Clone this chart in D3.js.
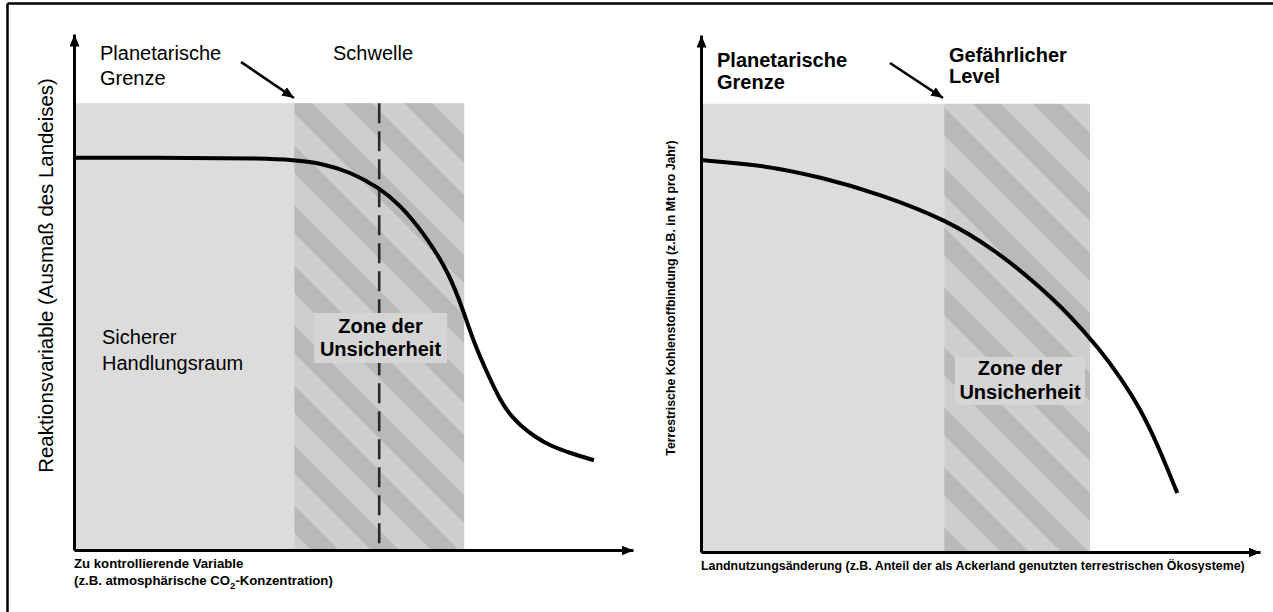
<!DOCTYPE html>
<html><head><meta charset="utf-8">
<script src="https://cdn.jsdelivr.net/npm/d3@7"></script>
<style>body{margin:0;background:#fff}svg{display:block}text{font-family:"Liberation Sans",Arial,sans-serif;fill:#000}</style>
</head><body><svg id="c" width="1273" height="612"></svg>
<script>
// ---- data (abstract units 0..100 along each axis) ----
const leftCurveX  = [0, 22.5, 33.3, 39.4, 44.0, 49.4, 54.6, 58.3, 62.6, 67.1, 69.6, 71.7, 74.1, 76.2, 78.0, 79.8, 82.5, 85.2, 88.7, 93.0];
const leftCurveY  = [76.0, 76.0, 75.9, 75.6, 75.0, 73.3, 70.2, 66.9, 61.4, 53.7, 46.5, 39.7, 33.9, 29.1, 26.2, 24.2, 21.9, 20.2, 18.8, 17.4];
const rightCurveX = [0, 10.7, 21.6, 32.4, 44.0, 52.6, 59.9, 65.7, 71.4, 75.0, 78.5, 81.8, 85.2];
const rightCurveY = [75.8, 74.9, 72.5, 69.1, 64.2, 58.4, 52.0, 46.2, 39.1, 33.8, 27.9, 20.5, 11.4];
const leftZones  = [0, 39.4, 69.8];   // safe zone start, planetary boundary, end of uncertainty
const rightZones = [0, 43.5, 69.6];
const zoneTop = [86.6, 86.7];
const leftThreshold = 54.6;

const leftTexts = {
  boundary: ["Planetarische", "Grenze"],
  threshold: ["Schwelle"],
  safe: ["Sicherer", "Handlungsraum"],
  zone: ["Zone der", "Unsicherheit"],
  yTitle: "Reaktionsvariable (Ausmaß des Landeises)",
  xTitle1: "Zu kontrollierende Variable",
  xTitle2: ["(z.B. atmosphärische CO", "2", "-Konzentration)"]
};
const rightTexts = {
  boundary: ["Planetarische", "Grenze"],
  danger: ["Gefährlicher", "Level"],
  zone: ["Zone der", "Unsicherheit"],
  yTitle: "Terrestrische Kohlenstoffbindung (z.B. in Mt pro Jahr)",
  xTitle: "Landnutzungsänderung (z.B. Anteil der als Ackerland genutzten terrestrischen Ökosysteme)"
};

const svg = d3.select("#c");
const defs = svg.append("defs");

// arrow marker
defs.append("marker").attr("id","arr").attr("markerUnits","userSpaceOnUse")
  .attr("viewBox","0 0 12 10").attr("refX",12).attr("refY",5)
  .attr("markerWidth",12).attr("markerHeight",10).attr("orient","auto")
  .append("path").attr("d","M0,0L12,5L0,10Z").attr("fill","#000");

function hatch(id, off){
  const p = defs.append("pattern").attr("id",id).attr("patternUnits","userSpaceOnUse")
    .attr("width",60/Math.SQRT2).attr("height",60/Math.SQRT2)
    .attr("patternTransform",`translate(0,${off}) rotate(45)`);
  p.append("rect").attr("width",60/Math.SQRT2).attr("height",60/Math.SQRT2).attr("fill","#cecece");
  p.append("rect").attr("width",60/Math.SQRT2).attr("height",28/Math.SQRT2).attr("fill","#b9b9b9");
}
hatch("hL", 31);
hatch("hR", 3);

// frame
svg.append("line").attr("x1",7.5).attr("y1",3.5).attr("x2",1273).attr("y2",3.5).attr("stroke","#000").attr("stroke-width",2.5);
svg.append("line").attr("x1",7.5).attr("y1",3.5).attr("x2",7.5).attr("y2",612).attr("stroke","#000").attr("stroke-width",2.5);

function panel(cfg){
  const x = d3.scaleLinear().domain([0,100]).range(cfg.xr);
  const y = d3.scaleLinear().domain([0,100]).range(cfg.yr);
  const g = svg.append("g");
  const z = cfg.zones;
  g.append("rect").attr("x",x(z[0])).attr("y",y(cfg.top)).attr("width",x(z[1])-x(z[0])).attr("height",y(0)-y(cfg.top)).attr("fill","#dcdcdc");
  g.append("rect").attr("x",x(z[1])).attr("y",y(cfg.top)).attr("width",x(z[2])-x(z[1])).attr("height",y(0)-y(cfg.top)).attr("fill",`url(#${cfg.hatch})`);
  if (cfg.threshold!=null){
    g.append("line").attr("x1",x(cfg.threshold)).attr("x2",x(cfg.threshold)).attr("y1",y(cfg.top)).attr("y2",y(0))
      .attr("stroke","#2a2a2a").attr("stroke-width",2.6).attr("stroke-dasharray","20,8");
  }
  // uncertainty label box
  const b = cfg.box;
  g.append("rect").attr("x",b[0]).attr("y",b[1]).attr("width",b[2]).attr("height",b[3]).attr("fill","#d5d5d5");
  cfg.zoneText.forEach((t,i)=>{
    g.append("text").attr("x",b[0]+b[2]/2).attr("y",cfg.zoneY[i]).attr("text-anchor","middle")
      .attr("font-size",20).attr("font-weight","bold").text(t);
  });
  // curve
  const pts = cfg.cx.map((v,i)=>[v,cfg.cy[i]]);
  g.append("path").datum(pts).attr("fill","none").attr("stroke","#000").attr("stroke-width",4).attr("stroke-linecap","butt")
    .attr("d", d3.line().x(d=>x(d[0])).y(d=>y(d[1])).curve(d3.curveBasis));
  // axes
  const xa = g.append("g").attr("transform",`translate(0,${y(0)})`).call(d3.axisBottom(x).ticks(0).tickSizeOuter(0));
  const ya = g.append("g").attr("transform",`translate(${x(0)},0)`).call(d3.axisLeft(y).ticks(0).tickSizeOuter(0));
  [xa,ya].forEach(a=>{a.select(".domain").attr("stroke","#000").attr("stroke-width",3).attr("marker-end","url(#arr)");});
  return {x,y,g};
}

// LEFT PANEL
panel({xr:[74,633], yr:[550,34], zones:leftZones, top:zoneTop[0], hatch:"hL", threshold:leftThreshold,
  box:[314,313,133,50], zoneText:leftTexts.zone, zoneY:[333,356], cx:leftCurveX, cy:leftCurveY});
// RIGHT PANEL
panel({xr:[701,1260], yr:[552,35], zones:rightZones, top:zoneTop[1], hatch:"hR", threshold:null,
  box:[955,357,130,48], zoneText:rightTexts.zone, zoneY:[375,399], cx:rightCurveX, cy:rightCurveY});

function lines(arr, x, ys, opts){
  arr.forEach((t,i)=>{
    svg.append("text").attr("x",x).attr("y",ys[i]).attr("font-size",opts.size).attr("font-weight",opts.weight||"normal").text(t);
  });
}
// left texts
lines(leftTexts.boundary, 100, [60,85], {size:20});
lines(leftTexts.threshold, 333, [60], {size:20});
lines(leftTexts.safe, 102, [344,370], {size:20});
svg.append("line").attr("x1",241).attr("y1",62).attr("x2",294).attr("y2",98).attr("stroke","#000").attr("stroke-width",2.6).attr("marker-end","url(#arr)");
svg.append("text").attr("transform","translate(53,275.5) rotate(-90)").attr("text-anchor","middle").attr("font-size",20.4).text(leftTexts.yTitle);
svg.append("text").attr("x",74).attr("y",568).attr("font-size",13.2).attr("font-weight","bold").text(leftTexts.xTitle1);
const t2 = svg.append("text").attr("x",74).attr("y",585).attr("font-size",13.2).attr("font-weight","bold");
t2.append("tspan").text(leftTexts.xTitle2[0]);
t2.append("tspan").attr("dy",4).attr("font-size",9.5).text(leftTexts.xTitle2[1]);
t2.append("tspan").attr("dy",-4).text(leftTexts.xTitle2[2]);

// right texts
lines(rightTexts.boundary, 717, [67,89], {size:20, weight:"bold"});
lines(rightTexts.danger, 949, [62,83], {size:20, weight:"bold"});
svg.append("line").attr("x1",890).attr("y1",63).attr("x2",943).attr("y2",98).attr("stroke","#000").attr("stroke-width",2.6).attr("marker-end","url(#arr)");
svg.append("text").attr("transform","translate(675,298) rotate(-90)").attr("text-anchor","middle").attr("font-size",12.3).attr("font-weight","bold").text(rightTexts.yTitle);
svg.append("text").attr("x",701).attr("y",570).attr("font-size",12.4).attr("font-weight","bold").text(rightTexts.xTitle);
</script></body></html>
